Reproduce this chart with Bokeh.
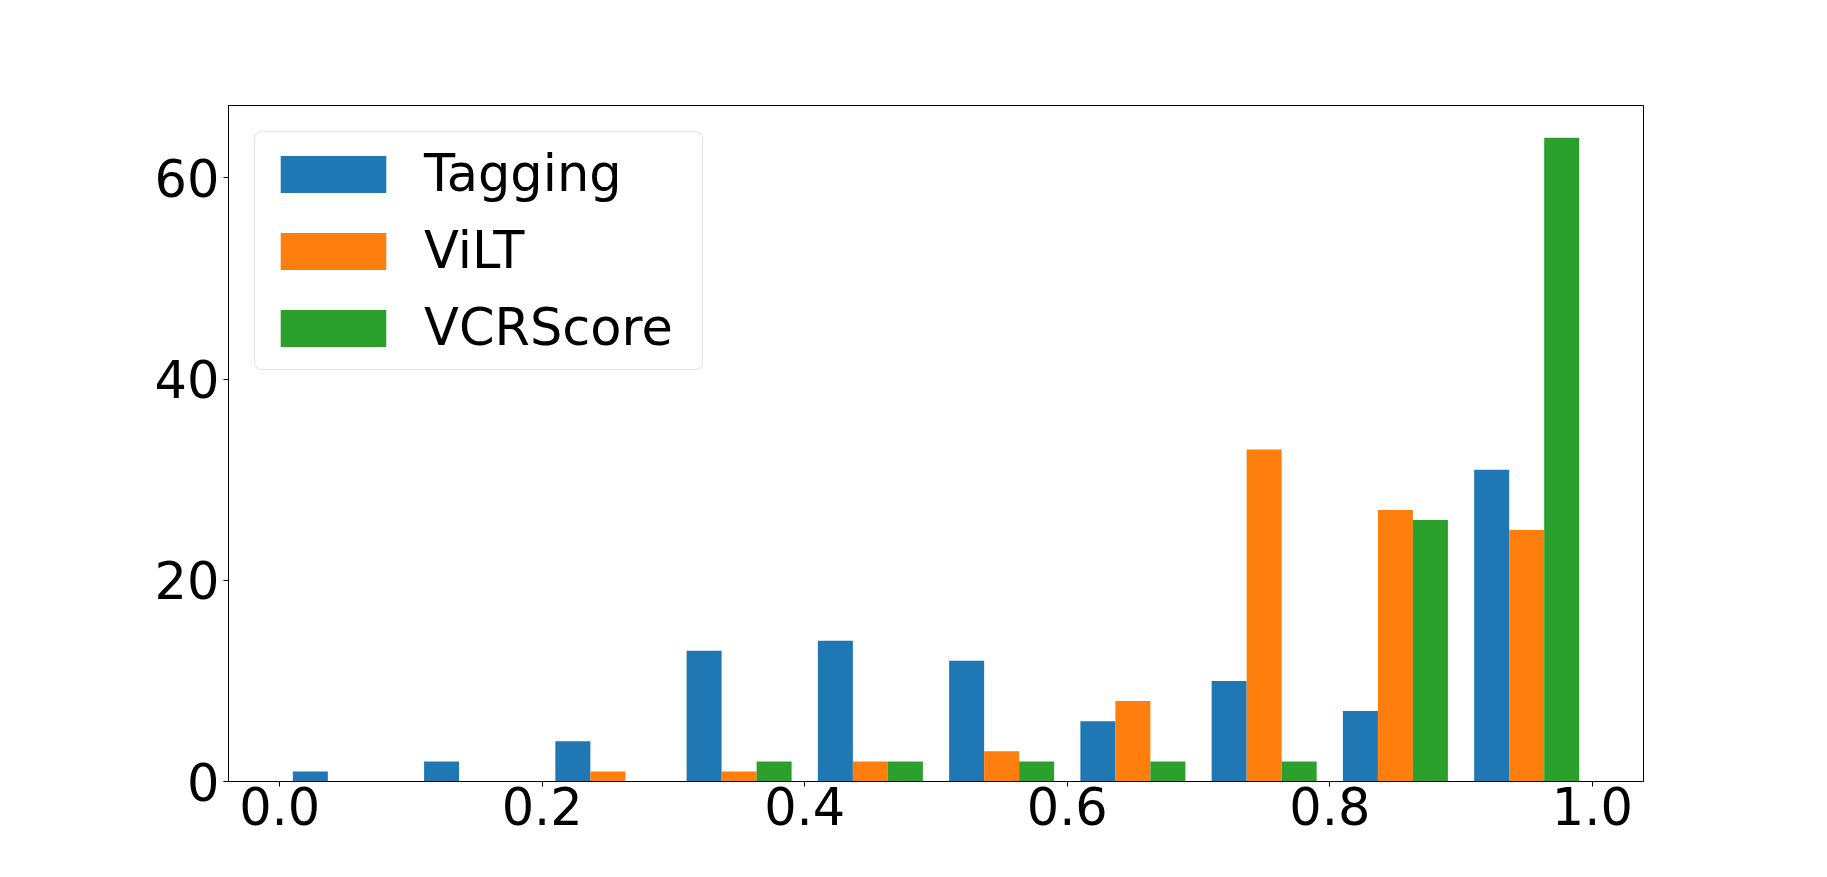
import numpy as np
from bokeh.plotting import figure
from bokeh.models import FixedTicker, NumeralTickFormatter, Legend, LegendItem, Range1d
from bokeh.embed import file_html
from bokeh.resources import INLINE

# ---- data ----
bin_edges = [0.0, 0.1, 0.2, 0.3, 0.4, 0.5, 0.6, 0.7, 0.8, 0.9, 1.0]
series_names = ["Tagging", "ViLT", "VCRScore"]
tagging = [1, 2, 4, 13, 14, 12, 6, 10, 7, 31]
vilt = [0, 0, 1, 1, 2, 3, 8, 33, 27, 25]
vcrscore = [0, 0, 0, 2, 2, 2, 2, 2, 26, 64]
colors = ["#1f77b4", "#ff7f0e", "#2ca02c"]
x_ticks = [0.0, 0.2, 0.4, 0.6, 0.8, 1.0]
y_ticks = [0, 20, 40, 60]

FONT = "DejaVu Sans"
FS = "51px"

p = figure(width=1811, height=861, output_backend="svg", toolbar_location=None,
           min_border_left=228, min_border_right=168, min_border_top=105, min_border_bottom=80)
p.x_range = Range1d(-0.039, 1.039)
p.y_range = Range1d(0, 67.2)

edges = np.array(bin_edges)
left = edges[:-1]
bw = edges[1:] - edges[:-1]
rw = 0.8
w = bw * rw / 3
off = bw * (1 - rw) / 2

renderers = []
for j, (name, vals) in enumerate(zip(series_names, [tagging, vilt, vcrscore])):
    xc = left + off + w * j + w / 2
    r = p.vbar(x=xc, top=vals, width=w, bottom=0, fill_color=colors[j], line_color=None)
    renderers.append(r)

p.xgrid.visible = False
p.ygrid.visible = False
p.outline_line_color = "black"
p.outline_line_width = 1

p.xaxis.ticker = FixedTicker(ticks=x_ticks)
p.xaxis.formatter = NumeralTickFormatter(format="0.0")
p.yaxis.ticker = FixedTicker(ticks=y_ticks)
for ax in (p.xaxis, p.yaxis):
    ax.major_label_text_font = FONT
    ax.major_label_text_font_size = FS
    ax.major_label_text_color = "black"
    ax.axis_line_color = "black"
    ax.axis_line_width = 1
    ax.major_tick_line_color = "black"
    ax.major_tick_in = 0
    ax.major_tick_out = 5
    ax.minor_tick_line_color = None
p.xaxis.major_label_standoff = 0
p.yaxis.major_label_standoff = 4

legend = Legend(items=[LegendItem(label=n, renderers=[r]) for n, r in zip(series_names, renderers)],
                location="top_left", margin=26)
legend.label_text_font = FONT
legend.label_text_font_size = FS
legend.label_text_color = "black"
legend.glyph_width = 132
legend.glyph_height = 46
legend.label_standoff = 25
legend.label_width = 266
legend.spacing = 18
legend.padding = 12
legend.border_line_color = "#cccccc"
legend.border_line_width = 1
legend.background_fill_alpha = 0.8
if "border_radius" in legend.properties():
    legend.border_radius = 8
p.add_layout(legend)

open("out.html", "w").write(file_html(p, INLINE))
